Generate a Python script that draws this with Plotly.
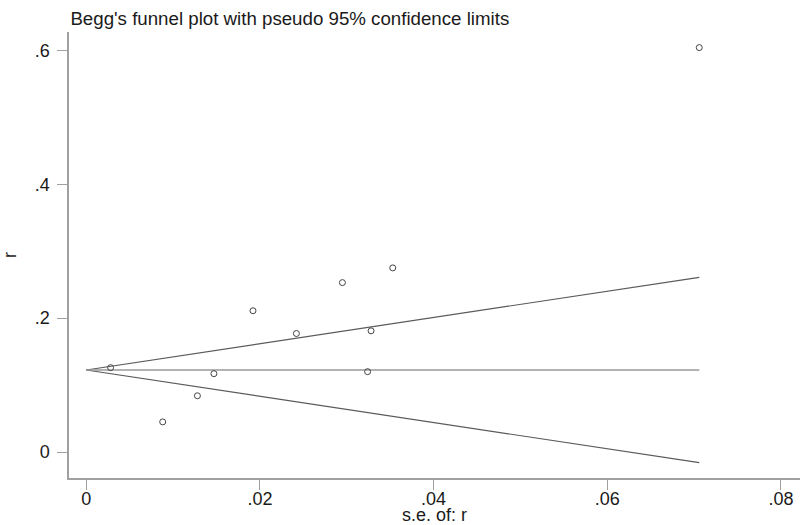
import plotly.graph_objects as go

# study effect sizes (r) and their standard errors
se_r = [0.0028, 0.0088, 0.0128, 0.0147, 0.0192, 0.0242, 0.0295, 0.0353, 0.0328, 0.0324, 0.0706]
r = [0.126, 0.045, 0.084, 0.117, 0.211, 0.177, 0.253, 0.275, 0.181, 0.120, 0.604]

pooled = 0.1225  # fixed-effect pooled estimate
se_span = [0, max(se_r)]

x_ticks = [0, 0.02, 0.04, 0.06, 0.08]
x_ticktext = ['0', '.02', '.04', '.06', '.08']
y_ticks = [0, 0.2, 0.4, 0.6]
y_ticktext = ['0', '.2', '.4', '.6']

upper = [pooled + 1.96 * s for s in se_span]
lower = [pooled - 1.96 * s for s in se_span]

font = 'Liberation Sans, Arial, sans-serif'

fig = go.Figure()
fig.add_trace(go.Scatter(x=se_span, y=upper, mode='lines',
                         line=dict(color='#5a5a5a', width=1.2), hoverinfo='skip'))
fig.add_trace(go.Scatter(x=se_span, y=lower, mode='lines',
                         line=dict(color='#5a5a5a', width=1.2), hoverinfo='skip'))
fig.add_trace(go.Scatter(x=se_span, y=[pooled, pooled], mode='lines',
                         line=dict(color='#9a9a9a', width=1.6), hoverinfo='skip'))
fig.add_trace(go.Scatter(x=se_r, y=r, mode='markers',
                         marker=dict(symbol='circle-open', size=6, color='#444444',
                                     line=dict(width=1))))

fig.update_layout(
    width=800, height=525,
    margin=dict(l=69, r=0, t=32, b=47),
    paper_bgcolor='white', plot_bgcolor='white',
    showlegend=False,
    font=dict(family=font, size=18, color='#1a1a1a'),
    title=dict(text="Begg's funnel plot with pseudo 95% confidence limits",
               x=0.088, xref='container', xanchor='left', y=0.978, yref='container',
               yanchor='top', automargin=False, font=dict(size=18.7, color='#1a1a1a')),
)

fig.update_xaxes(range=[-0.00199, 0.0822], tickvals=x_ticks, ticktext=x_ticktext,
                 showgrid=False, zeroline=False, showline=True, linecolor='#a0a0a0',
                 linewidth=1.5, ticks='outside', ticklen=10, tickcolor='#a0a0a0',
                 tickwidth=1.2, automargin=False, ticklabelstandoff=-6,
                 title=dict(text='s.e. of: r', standoff=7, font=dict(size=18)))
fig.update_yaxes(range=[-0.0388, 0.6273], tickvals=y_ticks, ticktext=y_ticktext,
                 showgrid=False, zeroline=False, showline=True, linecolor='#a0a0a0',
                 linewidth=1.5, ticks='outside', ticklen=10, tickcolor='#a0a0a0',
                 tickwidth=1.2, ticklabelstandoff=4, automargin=False,
                 title=dict(text='r', standoff=20, font=dict(size=18)))

# page body has an 8px default margin; drop it so the figure fills the window
fig.write_html("out.html", config={'displayModeBar': False},
               post_script="document.body.style.margin='0px';")
